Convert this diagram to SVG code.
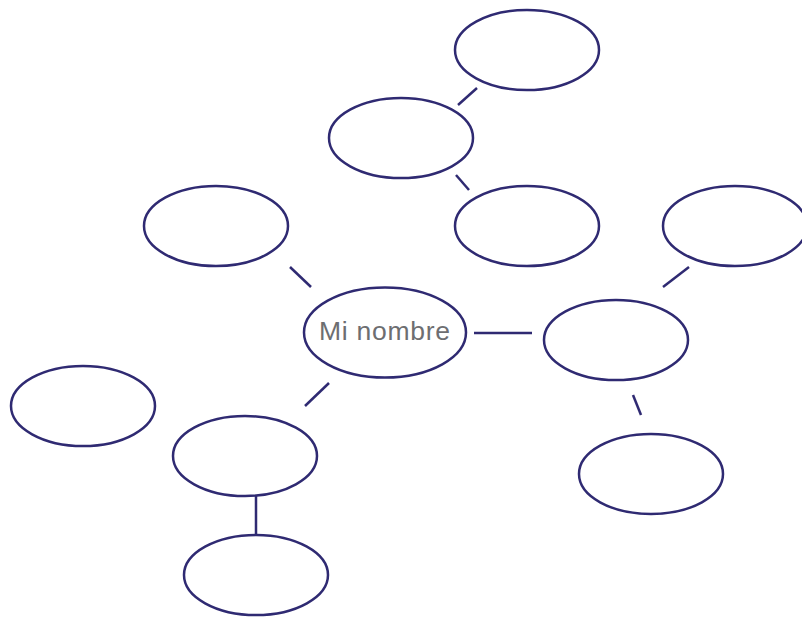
<svg xmlns="http://www.w3.org/2000/svg" width="802" height="618" viewBox="0 0 802 618">
<style>
.n{fill:#fff;stroke:#2f2a72;stroke-width:2.5}
.c line{stroke:#2f2a72;stroke-width:2.5;stroke-linecap:butt}
.t{font-family:"Liberation Sans",Arial,sans-serif;font-size:26.5px;fill:#6d6e71}
</style>
<rect width="802" height="618" fill="#fff"/>
<g class="c" id="connectors">
<line x1="458" y1="105" x2="477" y2="88"/>
<line x1="456" y1="175" x2="469" y2="190"/>
<line x1="290" y1="267" x2="311" y2="287"/>
<line x1="474" y1="333" x2="532" y2="333"/>
<line x1="663" y1="287" x2="689" y2="267"/>
<line x1="633" y1="395" x2="641" y2="415"/>
<line x1="329" y1="383" x2="305" y2="406"/>
<line x1="256" y1="496" x2="256" y2="535"/>
</g>
<g id="n1"><ellipse class="n" cx="527" cy="50" rx="72" ry="40"/></g>
<g id="n2"><ellipse class="n" cx="401" cy="138" rx="72" ry="40"/></g>
<g id="n3"><ellipse class="n" cx="527" cy="226" rx="72" ry="40"/></g>
<g id="n4"><ellipse class="n" cx="216" cy="226" rx="72" ry="40"/></g>
<g id="n5"><ellipse class="n" cx="735" cy="226" rx="72" ry="40"/></g>
<g id="center"><ellipse class="n" cx="385" cy="332.5" rx="81" ry="45"/><text class="t" x="319" y="340" textLength="131" lengthAdjust="spacing">Mi nombre</text></g>
<g id="n6"><ellipse class="n" cx="616" cy="340" rx="72" ry="40"/></g>
<g id="n7"><ellipse class="n" cx="83" cy="406" rx="72" ry="40"/></g>
<g id="n8"><ellipse class="n" cx="245" cy="456" rx="72" ry="40"/></g>
<g id="n9"><ellipse class="n" cx="651" cy="474" rx="72" ry="40"/></g>
<g id="n10"><ellipse class="n" cx="256" cy="575" rx="72" ry="40"/></g>
</svg>
